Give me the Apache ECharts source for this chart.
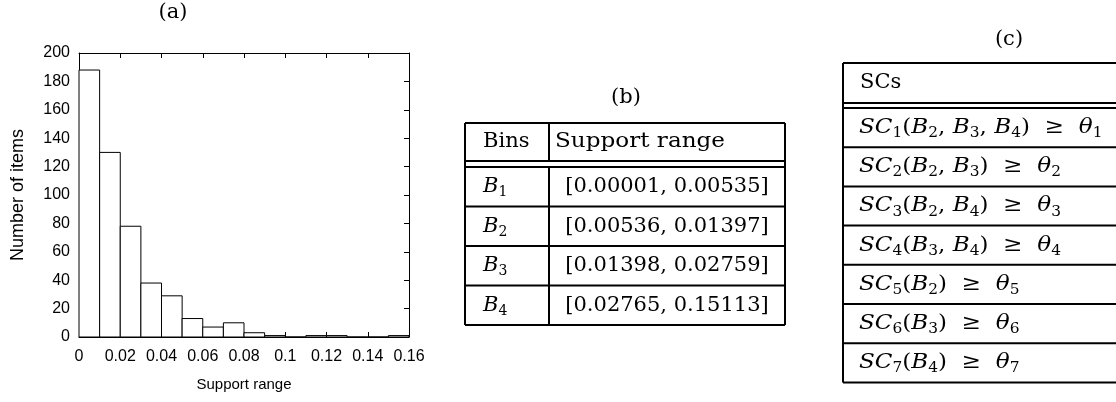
<!DOCTYPE html>
<html>
<head>
<meta charset="utf-8">
<script src="https://cdn.jsdelivr.net/npm/echarts@6/dist/echarts.min.js"></script>
<style>
  html, body { margin: 0; padding: 0; background: #fff; }
  #main { width: 1116px; height: 402px; }
</style>
</head>
<body>
<div id="main"></div>
<script>
// (a) histogram: number of items per support bin (bin width 0.01)
const binEdges = [0, 0.01, 0.02, 0.03, 0.04, 0.05, 0.06, 0.07, 0.08,
                  0.09, 0.10, 0.11, 0.12, 0.13, 0.14, 0.15, 0.16];
const itemCounts = [188, 130, 78, 38, 29, 13, 7, 10, 3, 1, 0, 1, 1, 0, 0, 1];

// (b) support bins
const tableBHeader = ['Bins', 'Support range'];
const binIds = [1, 2, 3, 4];
const binRanges = ['[0.00001, 0.00535]', '[0.00536, 0.01397]',
                   '[0.01398, 0.02759]', '[0.02765, 0.15113]'];

// (c) support constraints: SC_k(B_args) >= theta_k
const tableCHeader = 'SCs';
const scIds = [1, 2, 3, 4, 5, 6, 7];
const scArgs = [[2, 3, 4], [2, 3], [2, 4], [3, 4], [2], [3], [4]];

const panelTitles = ['(a)', '(b)', '(c)'];

const SERIF = 'DejaVu Serif';
const SANS = 'Liberation Sans';

const mathRich = {
  n: { fontFamily: SERIF, fontSize: 21, lineHeight: 28, fill: '#000' },
  i: { fontFamily: SERIF, fontSize: 21, lineHeight: 28, fontStyle: 'italic', fill: '#000' },
  s: { fontFamily: SERIF, fontSize: 14, padding: [12, 0, 0, 0], fill: '#000' }
};

function binLabel(k) { return '{i|B}{s|' + k + '}'; }
function scLabel(k, args) {
  return '{i|SC}{s|' + k + '}{n|(}' +
    args.map(binLabel).join('{n|, }') +
    '{n|)  ≥  }{i|θ}{s|' + k + '}';
}

function textEl(x, y, text, align, sx) {
  return {
    type: 'text', x: x, y: y, silent: true, scaleX: sx || 1,
    style: {
      text: text, align: align || 'left', verticalAlign: 'middle',
      fontFamily: SERIF, fontSize: 21, fill: '#000',
      rich: mathRich
    }
  };
}
function hLine(x1, x2, y, w) {
  return { type: 'line', silent: true,
    shape: { x1: x1, y1: y, x2: x2, y2: y },
    style: { stroke: '#000', lineWidth: w || 2 } };
}
function vLine(x, y1, y2, w) {
  return { type: 'line', silent: true,
    shape: { x1: x, y1: y1, x2: x, y2: y2 },
    style: { stroke: '#000', lineWidth: w || 2 } };
}

const graphics = [];

// panel captions
graphics.push(textEl(173, 13, '{n|' + panelTitles[0] + '}', 'center'));
graphics.push(textEl(626, 98, '{n|' + panelTitles[1] + '}', 'center'));
graphics.push(textEl(1009, 40, '{n|' + panelTitles[2] + '}', 'center'));

// table (b)
(function () {
  const L = 465, R = 785, D = 549;
  const top = 123, headH = 38, gap = 6, rowH = 39.5;
  const headBot = top + headH, bodyTop = headBot + gap;
  const bottom = bodyTop + rowH * binIds.length;
  graphics.push(hLine(L, R, top));
  graphics.push(hLine(L, R, headBot));
  graphics.push(hLine(L, R, bodyTop));
  graphics.push(vLine(L, top, bottom));
  graphics.push(vLine(R, top, bottom));
  graphics.push(vLine(D, top, headBot));
  graphics.push(vLine(D, bodyTop, bottom));
  graphics.push(textEl(483, top + headH / 2, '{n|' + tableBHeader[0] + '}'));
  graphics.push(textEl(555, top + headH / 2, '{n|' + tableBHeader[1] + '}', 'left', 1.1));
  binIds.forEach(function (k, r) {
    const y0 = bodyTop + rowH * r;
    graphics.push(hLine(L, R, y0 + rowH));
    graphics.push(textEl(483, y0 + rowH / 2, binLabel(k)));
    graphics.push(textEl((D + R) / 2, y0 + rowH / 2, '{n|' + binRanges[r] + '}', 'center'));
  });
})();

// table (c)
(function () {
  const L = 843, R = 1130;
  const top = 63, headH = 40, gap = 5, rowH = 39.2;
  const headBot = top + headH, bodyTop = headBot + gap;
  const bottom = bodyTop + rowH * scIds.length;
  graphics.push(hLine(L, R, top));
  graphics.push(hLine(L, R, headBot));
  graphics.push(hLine(L, R, bodyTop));
  graphics.push(vLine(L, top, bottom));
  graphics.push(textEl(860, top + headH / 2, '{n|' + tableCHeader + '}'));
  scIds.forEach(function (k, r) {
    const y0 = bodyTop + rowH * r;
    graphics.push(hLine(L, R, y0 + rowH));
    graphics.push(textEl(859, y0 + rowH / 2, scLabel(k, scArgs[r]), 'left', 1.1));
  });
})();

const axisColor = '#000';
const tickLabel = { color: '#000', fontFamily: SANS, fontSize: 16 };

const option = {
  backgroundColor: '#fff',
  animation: false,
  grid: { left: 79, top: 53, width: 330, height: 284 },
  xAxis: [
    {
      type: 'value', min: 0, max: 0.16, interval: 0.02, position: 'bottom',
      name: 'Support range', nameLocation: 'middle', nameGap: 40,
      nameTextStyle: { color: '#000', fontFamily: SANS, fontSize: 15 },
      axisLine: { show: true, onZero: false, lineStyle: { color: axisColor, width: 1 } },
      axisTick: { show: true, inside: true, length: 5, lineStyle: { color: axisColor } },
      axisLabel: Object.assign({ margin: 12 }, tickLabel),
      splitLine: { show: false }
    },
    {
      type: 'value', min: 0, max: 0.16, interval: 0.02, position: 'top',
      axisLine: { show: true, onZero: false, lineStyle: { color: axisColor, width: 1 } },
      axisTick: { show: true, inside: true, length: 5, lineStyle: { color: axisColor } },
      axisLabel: { show: false },
      splitLine: { show: false }
    }
  ],
  yAxis: [
    {
      type: 'value', min: 0, max: 200, interval: 20, position: 'left',
      name: 'Number of items', nameLocation: 'middle', nameGap: 52,
      nameTextStyle: { color: '#000', fontFamily: SANS, fontSize: 18 },
      axisLine: { show: true, onZero: false, lineStyle: { color: axisColor, width: 1 } },
      axisTick: { show: true, inside: true, length: 5, lineStyle: { color: axisColor } },
      axisLabel: Object.assign({ margin: 9 }, tickLabel),
      splitLine: { show: false }
    },
    {
      type: 'value', min: 0, max: 200, interval: 20, position: 'right',
      axisLine: { show: true, onZero: false, lineStyle: { color: axisColor, width: 1 } },
      axisTick: { show: true, inside: true, length: 5, lineStyle: { color: axisColor } },
      axisLabel: { show: false },
      splitLine: { show: false }
    }
  ],
  series: [
    {
      type: 'custom',
      xAxisIndex: 0, yAxisIndex: 0,
      data: itemCounts.map(function (c, i) { return [binEdges[i], binEdges[i + 1], c]; }),
      encode: { x: [0, 1], y: 2 },
      renderItem: function (params, api) {
        const topLeft = api.coord([api.value(0), api.value(2)]);
        const botRight = api.coord([api.value(1), 0]);
        return {
          type: 'rect',
          shape: { x: topLeft[0], y: topLeft[1],
                   width: botRight[0] - topLeft[0], height: botRight[1] - topLeft[1] },
          style: { fill: '#fff', stroke: '#000', lineWidth: 1 }
        };
      },
      z: 1
    }
  ],
  graphic: graphics
};

const chart = echarts.init(document.getElementById('main'), null, { renderer: 'canvas' });
chart.setOption(option);
</script>
</body>
</html>
